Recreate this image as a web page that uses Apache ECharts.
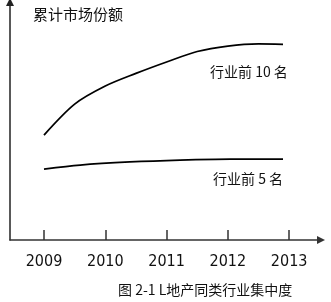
<!DOCTYPE html>
<html>
<head>
<meta charset="utf-8">
<script src="https://cdn.jsdelivr.net/npm/echarts@6/dist/echarts.min.js"></script>
<style>html,body{margin:0;padding:0;background:#fff}#c{width:331px;height:302px}</style>
</head>
<body>
<div id="c"></div>
<script>
var years = [2009, 2010, 2011, 2012, 2013];
var yearLabels = ['2009', '2010', '2011', '2012', '2013'];
var top10X = [2009.0, 2009.5, 2010.0, 2010.5, 2011.0, 2011.5, 2012.0, 2012.5, 2012.9];
var top10Y = [44.1, 57.1, 64.7, 70.0, 74.8, 79.2, 81.5, 82.4, 82.2];
var top5X = [2009.0, 2009.59, 2010.40, 2011.22, 2012.04, 2012.9];
var top5Y = [29.8, 31.5, 32.8, 33.6, 34.0, 34.0];
var yTitle = '累计市场份额';
var name10 = '行业前 10 名';
var name5 = '行业前 5 名';
var caption = '图 2-1 L地产同类行业集中度';

function pairs(xs, ys) { return xs.map(function (x, i) { return [x, ys[i]]; }); }

var cjk = '"Noto Sans CJK SC", "Noto Sans", sans-serif';
var chart = echarts.init(document.getElementById('c'));
chart.setOption({
  animation: false,
  grid: { left: 10, right: 10, top: 2, bottom: 62 },
  xAxis: {
    type: 'value', min: 2008.445, max: 2013.52,
    splitLine: { show: false },
    axisLine: { lineStyle: { color: '#333', width: 1.5 }, symbol: ['none', 'triangle'], symbolSize: [8, 8] },
    axisTick: { inside: true, length: 10, lineStyle: { color: '#333', width: 1.5 }, customValues: years },
    axisLabel: {
      customValues: years, margin: 14,
      formatter: function (v) { return yearLabels[years.indexOf(Math.round(v))] || ''; },
      color: '#111', fontSize: 16, fontFamily: '"Liberation Sans Narrow", "DejaVu Sans Condensed", sans-serif'
    }
  },
  yAxis: {
    type: 'value', min: 0, max: 100,
    splitLine: { show: false },
    axisLine: { show: true, lineStyle: { color: '#222', width: 1.5 }, symbol: ['none', 'triangle'], symbolSize: [8, 8] },
    axisTick: { show: false },
    axisLabel: { show: false }
  },
  series: [
    { type: 'line', data: pairs(top10X, top10Y), smooth: 0.3, showSymbol: false, lineStyle: { color: '#000', width: 1.8 } },
    { type: 'line', data: pairs(top5X, top5Y), smooth: 0.3, showSymbol: false, lineStyle: { color: '#000', width: 1.8 } }
  ],
  graphic: [
    { type: 'text', left: 33, top: 7, style: { text: yTitle, font: '15px ' + cjk, fill: '#111' } },
    { type: 'text', left: 210, top: 65, style: { text: name10, font: '14px ' + cjk, fill: '#111' } },
    { type: 'text', left: 213, top: 172, style: { text: name5, font: '14px ' + cjk, fill: '#111' } },
    { type: 'text', left: 118, top: 283, style: { text: caption, font: '14px ' + cjk, fill: '#111' } }
  ]
});
</script>
</body>
</html>
